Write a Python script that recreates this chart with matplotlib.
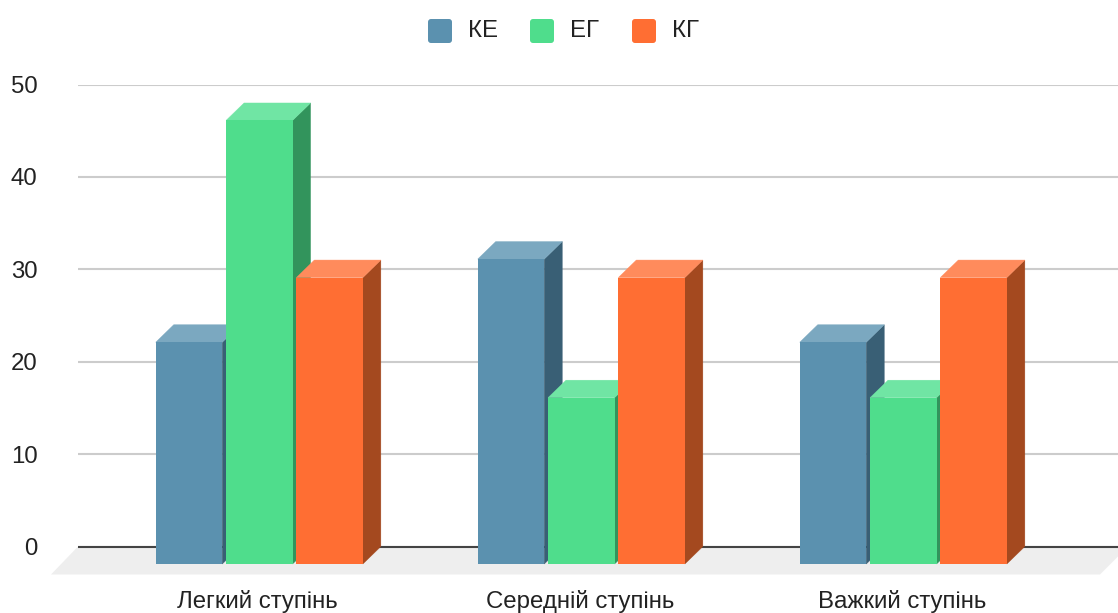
import matplotlib
matplotlib.use('Agg')
from matplotlib import pyplot as plt
from matplotlib.patches import Polygon, FancyBboxPatch
from matplotlib.transforms import Affine2D

plt.rcParams['font.family'] = ['Liberation Sans', 'DejaVu Sans']

categories = ['Легкий ступінь', 'Середній ступінь', 'Важкий ступінь']
series_names = ['КЕ', 'ЕГ', 'КГ']
ke = [24, 33, 24]
eg = [48, 18, 18]
kg = [31, 31, 31]
y_ticks = [0, 10, 20, 30, 40, 50]

# front, top, side
colors = [('#5b91af', '#7ba8c0', '#395f75'),
          ('#4fdd8c', '#70e5a4', '#32945c'),
          ('#ff6e33', '#ff8b5c', '#a4491f')]

W, H = 1118, 613
left, right, top, bottom = 78, 1118, 84.5, 546.5  # plot area in pixels
ppu_y = (bottom - top) / 50
ppu_x = 322.0  # pixels per category
first_center = 259.3

fig = plt.figure(figsize=(W / 100, H / 100), dpi=100)
ax = fig.add_axes([left / W, 1 - bottom / H, (right - left) / W, (bottom - top) / H])
ax.set_xlim((left - first_center) / ppu_x, (right - first_center) / ppu_x)
ax.set_ylim(0, 50)
for s in ax.spines.values():
	s.set_visible(False)

ax.set_yticks(y_ticks)
# labels sit a little left of the bar groups
ax.set_xticks([j - 1.5 / ppu_x for j in range(len(categories))])
ax.set_xticklabels(categories)
ax.tick_params(axis='y', length=0, pad=29, labelsize=17.3, labelcolor='#222222')
ax.tick_params(axis='x', length=0, pad=31, labelsize=17.3, labelcolor='#222222')
ax.grid(axis='y', color='#cccccc', lw=1.5, zorder=1)
ax.set_axisbelow(True)

# depth of the 3d effect, in data units
dx = 18 / ppu_x
dy = 17.5 / ppu_y
bar_w = 66.5 / ppu_x
step = 70.3 / ppu_x

# floor
x0, x1 = ax.get_xlim()
fdy = 28 / ppu_y
ax.add_patch(Polygon([(x0, 0), (x1, 0), (x1 + 10 / ppu_x, 0), (x1 - 18 / ppu_x, -fdy), (x0 - 27 / ppu_x, -fdy)],
                     closed=True, fc='#eeeeee', ec='none', clip_on=False, zorder=2))
ax.plot([x0, x1], [0, 0], color='#444444', lw=1.5, zorder=3, clip_on=False, solid_capstyle='butt')

z = 4
for i, vals in enumerate([ke, eg, kg]):
	front, lid, side = colors[i]
	for j, v in enumerate(vals):
		xa = j + (i - 1) * step - bar_w / 2
		xb = xa + bar_w
		ya = -dy
		yb = v - dy
		ax.add_patch(Polygon([(xb, ya), (xb + dx, 0), (xb + dx, v), (xb, yb)],
		                     closed=True, fc=side, ec=side, lw=0.3, clip_on=False, zorder=z))
		ax.add_patch(Polygon([(xa, yb), (xa + dx, v), (xb + dx, v), (xb, yb)],
		                     closed=True, fc=lid, ec=lid, lw=0.3, clip_on=False, zorder=z))
		ax.add_patch(Polygon([(xa, ya), (xb, ya), (xb, yb), (xa, yb)],
		                     closed=True, fc=front, ec='none', clip_on=False, zorder=z + 0.5))
	z += 1

# legend, placed in pixels
px = Affine2D().scale(1, -1).translate(0, H)
for name, c, xp in zip(series_names, colors, [428, 530, 632]):
	fig.add_artist(FancyBboxPatch((xp + 2, 21), 20, 20, boxstyle='round,pad=2,rounding_size=3',
	                              fc=c[0], ec='none', transform=px))
	fig.text((xp + 40) / W, 1 - 31 / H, name, fontsize=17.3, color='#222222', ha='left', va='center')

fig.savefig('out.png', dpi=100)
